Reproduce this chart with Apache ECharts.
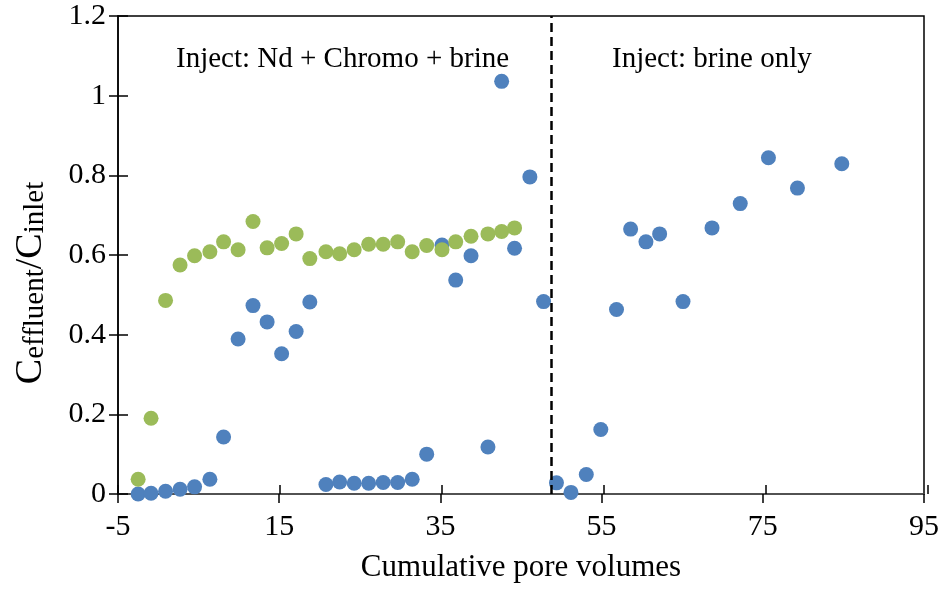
<!DOCTYPE html>
<html>
<head>
<meta charset="utf-8">
<title>Effluent / inlet concentration</title>
<script src="https://cdn.jsdelivr.net/npm/echarts@6/dist/echarts.min.js"></script>
<style>
  html, body { margin: 0; padding: 0; background: #fff; }
  #chart { width: 942px; height: 594px; }
</style>
</head>
<body>
<div id="chart"></div>
<script>
const poreVolumes = [-2.5, -0.9, 0.9, 2.7, 4.5, 6.4, 8.1, 9.9, 11.75, 13.5, 15.3, 17.1, 18.8,
  20.8, 22.5, 24.3, 26.1, 27.9, 29.7, 31.5, 33.3, 35.2, 36.9, 38.8, 40.9, 42.6, 44.2,
  46.1, 47.8, 49.4, 51.2, 53.1, 54.9, 56.85, 58.6, 60.5, 62.2, 65.1, 68.7, 72.2, 75.7, 79.3, 84.8]
const ndRatio = [0, 0.002, 0.007, 0.012, 0.018, 0.037, 0.143, 0.389, 0.473, 0.432, 0.352, 0.408, 0.482,
  0.024, 0.03, 0.027, 0.027, 0.029, 0.029, 0.037, 0.1, 0.625, 0.537, 0.598, 0.118, 1.036, 0.617,
  0.796, 0.483, 0.028, 0.004, 0.049, 0.162, 0.463, 0.665, 0.633, 0.653, 0.483, 0.668, 0.729, 0.844, 0.768, 0.829]
const chromoRatio = [0.037, 0.19, 0.486, 0.575, 0.598, 0.608, 0.633, 0.613, 0.684, 0.618, 0.629, 0.653, 0.591,
  0.608, 0.603, 0.613, 0.627, 0.627, 0.633, 0.608, 0.624, 0.613, 0.633, 0.647, 0.653, 0.659, 0.668]
const xTicks = [-5, 15, 35, 55, 75, 95]
const yTicks = [0, 0.2, 0.4, 0.6, 0.8, 1, 1.2]
const switchPoint = 48.8

const serif = '"Liberation Serif", "Times New Roman", serif'
const chart = echarts.init(document.getElementById('chart'))

const plotBox = { left: 118, right: 14, top: 16, bottom: 100 }
const xBase = {
  type: 'value',
  min: xTicks[0],
  max: xTicks[xTicks.length - 1],
  interval: xTicks[1] - xTicks[0],
  splitLine: { show: false }
}
const yBase = {
  type: 'value',
  min: yTicks[0],
  max: yTicks[yTicks.length - 1],
  interval: yTicks[1] - yTicks[0],
  splitLine: { show: false }
}
const innerTick = { show: true, inside: true, length: 9, lineStyle: { color: '#000', width: 1.5 } }
const ndPoints = poreVolumes.map((x, i) => [x, ndRatio[i]])

chart.setOption({
  animation: false,
  // grid 1 sits exactly on grid 0 and only carries the inner half of the crossing ticks
  grid: [
    { ...plotBox, show: true, borderColor: '#000', borderWidth: 1.5 },
    { ...plotBox, show: false }
  ],
  xAxis: [{
    ...xBase,
    gridIndex: 0,
    name: 'Cumulative pore volumes',
    nameLocation: 'middle',
    nameGap: 58,
    nameTextStyle: { fontFamily: serif, fontSize: 31, color: '#000' },
    axisLine: { onZero: false, lineStyle: { color: '#595959', width: 1.5 } },
    axisTick: { show: true, length: 9, lineStyle: { color: '#000', width: 1.5 } },
    axisLabel: { margin: 18, fontFamily: serif, fontSize: 30, color: '#000' }
  }, {
    ...xBase,
    gridIndex: 1,
    position: 'bottom',
    axisLine: { show: false, onZero: false },
    axisLabel: { show: false },
    axisTick: innerTick
  }],
  yAxis: [{
    ...yBase,
    gridIndex: 0,
    axisLine: { onZero: false, lineStyle: { color: '#000', width: 1.5 } },
    axisTick: { show: true, length: 9, lineStyle: { color: '#000', width: 1.5 } },
    axisLabel: { margin: 12, fontFamily: serif, fontSize: 30, color: '#000' }
  }, {
    ...yBase,
    gridIndex: 1,
    position: 'left',
    axisLine: { show: false, onZero: false },
    axisLabel: { show: false },
    axisTick: { ...innerTick, length: 10 }
  }],
  graphic: [{
    type: 'text',
    x: 176,
    y: 59,
    style: { text: 'Inject: Nd + Chromo + brine', fontFamily: serif, fontSize: 29, fill: '#000', verticalAlign: 'middle' }
  }, {
    type: 'text',
    x: 612,
    y: 59,
    style: { text: 'Inject: brine only', fontFamily: serif, fontSize: 29, fill: '#000', verticalAlign: 'middle' }
  }, {
    type: 'text',
    x: 31,
    y: 283,
    rotation: Math.PI / 2,
    style: {
      text: '{c|C}{s|effluent}{c|/C}{s|inlet}',
      fill: '#000',
      align: 'center',
      verticalAlign: 'middle',
      rich: {
        c: { fontFamily: serif, fontSize: 38, lineHeight: 38, verticalAlign: 'top', fill: '#000' },
        s: { fontFamily: serif, fontSize: 29, lineHeight: 29, padding: [13, 0, 0, 0], verticalAlign: 'bottom', fill: '#000' }
      }
    }
  }],
  series: [{
    // invisible copy so the tick-only axes of grid 1 are not blank
    name: 'ticks',
    type: 'scatter',
    xAxisIndex: 1,
    yAxisIndex: 1,
    silent: true,
    symbolSize: 0,
    itemStyle: { opacity: 0 },
    data: ndPoints
  }, {
    name: 'Nd',
    type: 'scatter',
    symbolSize: 15,
    itemStyle: { color: '#4F81BD', opacity: 1 },
    data: ndPoints,
    markLine: {
      silent: true,
      symbol: ['none', 'none'],
      label: { show: false },
      lineStyle: { color: '#000', type: [9, 5], width: 2.5 },
      data: [{ xAxis: switchPoint }]
    }
  }, {
    name: 'Chromo',
    type: 'scatter',
    symbolSize: 15,
    itemStyle: { color: '#9BBB59', opacity: 1 },
    data: chromoRatio.map((y, i) => [poreVolumes[i], y])
  }]
})
</script>
</body>
</html>
